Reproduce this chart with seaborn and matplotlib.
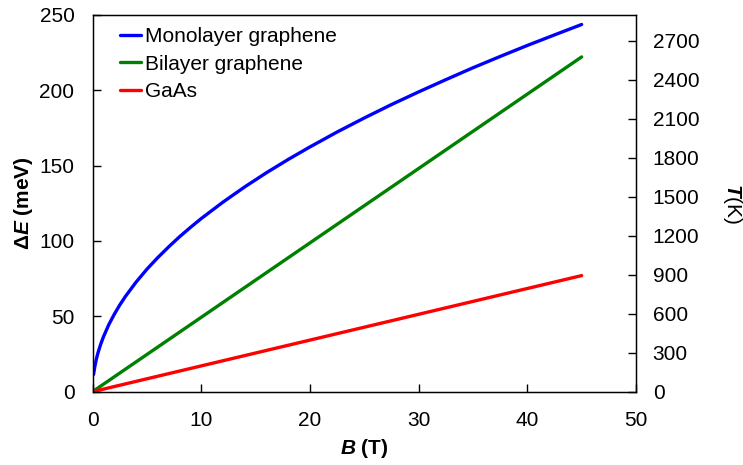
import pandas as pd
import matplotlib
matplotlib.use("Agg")
import matplotlib.pyplot as plt
import seaborn as sns

# valores
b_mono = [0.1, 0.2, 0.35, 0.5, 0.75, 1, 1.5, 2, 2.5, 3, 4, 5, 6, 7, 8, 9, 10,
          12, 14, 16, 18, 20, 22.5, 25, 27.5, 30, 32.5, 35, 37.5, 40, 42.5, 45]
e_mono = [11.5, 16.2, 21.5, 25.7, 31.4, 36.3, 44.5, 51.3, 57.4, 62.9, 72.6,
          81.2, 88.9, 96.0, 102.7, 108.9, 114.8, 125.7, 135.8, 145.2, 154.0,
          162.3, 172.2, 181.5, 190.4, 198.8, 206.9, 214.8, 222.3, 229.6, 236.6,
          243.5]
b_bi = [0, 45]
e_bi = [0, 222]
b_gaas = [0, 45]
e_gaas = [0, 77]

nombres = ["Monolayer graphene", "Bilayer graphene", "GaAs"]
colores = ["#0000ff", "#008000", "#ff0000"]
x_ticks = [0, 10, 20, 30, 40, 50]
y_ticks = [0, 50, 100, 150, 200, 250]
t_ticks = [0, 300, 600, 900, 1200, 1500, 1800, 2100, 2400, 2700]
meV_a_K = 11.6045

df = pd.concat([
    pd.DataFrame({"B": b_mono, "E": e_mono, "serie": nombres[0]}),
    pd.DataFrame({"B": b_bi, "E": e_bi, "serie": nombres[1]}),
    pd.DataFrame({"B": b_gaas, "E": e_gaas, "serie": nombres[2]}),
])

sns.set_style("ticks")
plt.rcParams["font.family"] = ["Liberation Sans", "DejaVu Sans"]
plt.rcParams["mathtext.fontset"] = "custom"
plt.rcParams["mathtext.it"] = "Liberation Sans:bold:italic"
plt.rcParams["mathtext.rm"] = "Liberation Sans"
plt.rcParams["text.color"] = "black"
plt.rcParams["axes.labelcolor"] = "black"
plt.rcParams["axes.edgecolor"] = "black"
plt.rcParams["xtick.color"] = "black"
plt.rcParams["ytick.color"] = "black"

fig = plt.figure(figsize=(7.43, 4.65), dpi=100)
ax = fig.add_axes([0.1245, 0.1576, 0.7315, 0.8108])

sns.lineplot(data=df, x="B", y="E", hue="serie", hue_order=nombres,
             palette=colores, linewidth=2.4, ax=ax)

ax.set_xlim(0, 50)
ax.set_ylim(0, 250)
ax.set_xticks(x_ticks)
ax.set_yticks(y_ticks)
ax.tick_params(axis="x", direction="in", labelsize=15, length=6, width=1.0,
               pad=14, bottom=True, top=False, colors="black")
ax.tick_params(axis="y", direction="in", labelsize=15, length=6, width=1.0,
               pad=13, left=True, right=False, colors="black")
for s in ax.spines.values():
    s.set_linewidth(1.0)

ax.set_xlabel("$B$ (T)", fontsize=15, fontweight="bold", labelpad=5)
ax.set_ylabel("Δ$E$ (meV)", fontsize=15, fontweight="bold", labelpad=3)

ax2 = ax.twinx()
ax2.set_ylim(0, 250 * meV_a_K)
ax2.set_yticks(t_ticks)
ax2.tick_params(axis="y", direction="in", labelsize=15, length=6, width=1.0,
                pad=12, right=True, left=False, colors="black")
ax2.set_ylabel("$T$(K)", fontsize=15, rotation=270, labelpad=32)

leg = ax.legend(loc="upper left", frameon=False, fontsize=15,
                handlelength=1.0, handletextpad=0.2, labelspacing=0.42,
                borderaxespad=0.0, bbox_to_anchor=(0.035, 0.99))

fig.savefig("out.png", dpi=100)
